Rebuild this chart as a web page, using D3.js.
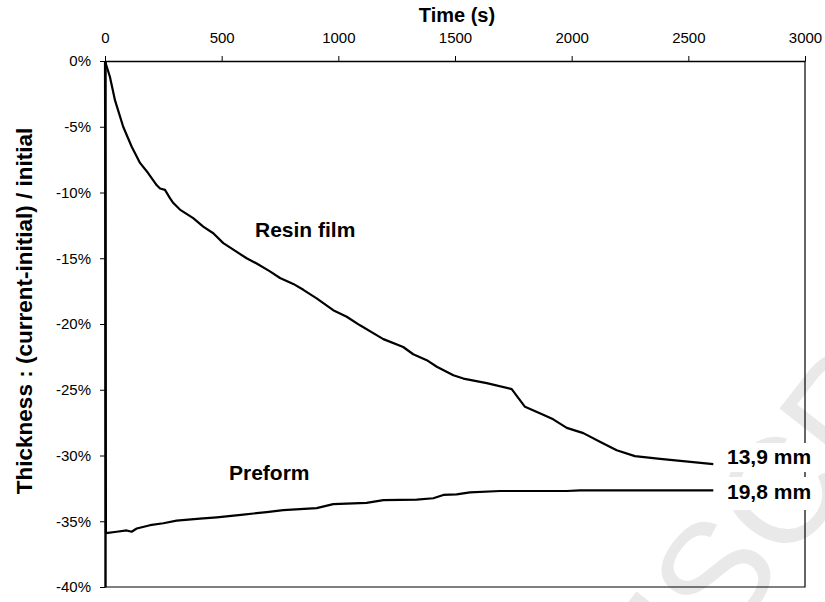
<!DOCTYPE html>
<html>
<head>
<meta charset="utf-8">
<script src="https://cdn.jsdelivr.net/npm/d3@7"></script>
<style>
body { margin: 0; background: #fff; }
text { font-family: "Liberation Sans", Arial, sans-serif; }
</style>
</head>
<body>
<div id="chart"></div>
<script>
// time in seconds, thickness change in %
var resinTime = [0, 21, 43, 78, 114, 150, 184, 222, 236, 257, 279, 293, 321, 378, 421, 464, 507, 550, 607, 650, 707, 750, 807, 850, 907, 978, 1036, 1093, 1164, 1193, 1278, 1321, 1379, 1422, 1493, 1536, 1636, 1743, 1800, 1878, 1921, 1979, 2050, 2121, 2193, 2271, 2379, 2607];
var resinValue = [0, -1.2, -3.0, -5.0, -6.5, -7.75, -8.5, -9.45, -9.7, -9.8, -10.45, -10.8, -11.3, -11.95, -12.6, -13.1, -13.85, -14.35, -15.0, -15.4, -16.0, -16.5, -16.95, -17.4, -18.05, -18.95, -19.45, -20.1, -20.85, -21.15, -21.75, -22.3, -22.75, -23.25, -23.9, -24.15, -24.5, -24.95, -26.3, -26.9, -27.25, -27.9, -28.3, -28.95, -29.6, -30.05, -30.25, -30.65];

var preformTime = [0, 4, 50, 93, 114, 136, 193, 250, 307, 407, 479, 593, 693, 764, 907, 978, 1121, 1193, 1336, 1407, 1450, 1507, 1564, 1693, 1979, 2036, 2607];
var preformValue = [0, -35.9, -35.8, -35.7, -35.8, -35.55, -35.3, -35.15, -34.95, -34.8, -34.7, -34.5, -34.3, -34.15, -34.0, -33.7, -33.6, -33.4, -33.35, -33.25, -33.0, -32.95, -32.8, -32.7, -32.7, -32.65, -32.65];

var timeTicks = [0, 500, 1000, 1500, 2000, 2500, 3000];
var pctTicks = [0, -5, -10, -15, -20, -25, -30, -35, -40];
var endLabels = ["13,9 mm", "19,8 mm"];

var w = 825, h = 602;
var svg = d3.select("#chart").append("svg").attr("width", w).attr("height", h);

var x = d3.scaleLinear().domain([0, 3000]).range([105, 805]);
var y = d3.scaleLinear().domain([0, -40]).range([61, 587]);

// faint watermark behind the plot
svg.append("text")
	.attr("transform", "translate(453,994) rotate(-52)")
	.attr("font-size", 150)
	.attr("fill", "#e9e9e9")
	.text("MANUSCRIPT");

// frame (right + bottom)
svg.append("path")
	.attr("d", "M" + x(0) + "," + y(-40) + "H" + x(3000) + "V" + y(0))
	.attr("fill", "none").attr("stroke", "#000").attr("stroke-width", 1.2);

var topAxis = svg.append("g")
	.attr("transform", "translate(0," + y(0) + ")")
	.call(d3.axisTop(x).tickValues(timeTicks).tickSize(5).tickPadding(13).tickSizeOuter(0)
		.tickFormat(d3.format("d")));
topAxis.select(".domain").attr("stroke-width", 1.5);
topAxis.selectAll("text").attr("font-size", 15).attr("font-family", null).attr("fill", "#000");

var leftAxis = svg.append("g")
	.attr("transform", "translate(" + x(0) + ",0)")
	.call(d3.axisLeft(y).tickValues(pctTicks).tickSize(5).tickPadding(9).tickSizeOuter(0)
		.tickFormat(function(d) { return d + "%"; }));
leftAxis.select(".domain").attr("stroke-width", 2.4);
leftAxis.selectAll("text").attr("font-size", 15).attr("font-family", null).attr("fill", "#000");

svg.append("text")
	.attr("x", 457).attr("y", 22)
	.attr("text-anchor", "middle")
	.attr("font-size", 20).attr("font-weight", "bold")
	.text("Time (s)");

svg.append("text")
	.attr("transform", "translate(32,311) rotate(-90)")
	.attr("text-anchor", "middle")
	.attr("font-size", 22.5).attr("font-weight", "bold")
	.text("Thickness  : (current-initial) / initial");

var line = d3.line()
	.x(function(d) { return x(d[0]); })
	.y(function(d) { return y(d[1]); });

var series = [d3.zip(resinTime, resinValue), d3.zip(preformTime, preformValue)];

svg.selectAll("path.curve")
	.data(series)
	.enter()
	.append("path")
	.attr("class", "curve")
	.attr("d", line)
	.attr("fill", "none")
	.attr("stroke", "#000")
	.attr("stroke-width", 2.2)
	.attr("stroke-linejoin", "round");

svg.append("text").attr("x", 255).attr("y", 237)
	.attr("font-size", 21).attr("font-weight", "bold").text("Resin film");
svg.append("text").attr("x", 229).attr("y", 480)
	.attr("font-size", 21).attr("font-weight", "bold").text("Preform");

// end labels sit on white boxes that cut the frame
var endY = [resinValue[resinValue.length - 1], preformValue[preformValue.length - 1]];
var boxes = [[443, 472], [477, 510]];
endLabels.forEach(function(lbl, i) {
	svg.append("rect")
		.attr("x", x(2607) + 1).attr("y", boxes[i][0])
		.attr("width", 100).attr("height", boxes[i][1] - boxes[i][0])
		.attr("fill", "#fff");
	svg.append("text")
		.attr("x", 727).attr("y", y(endY[i]) + (i === 0 ? -0.5 : 8.5))
		.attr("font-size", 21).attr("font-weight", "bold")
		.text(lbl);
});
</script>
</body>
</html>
